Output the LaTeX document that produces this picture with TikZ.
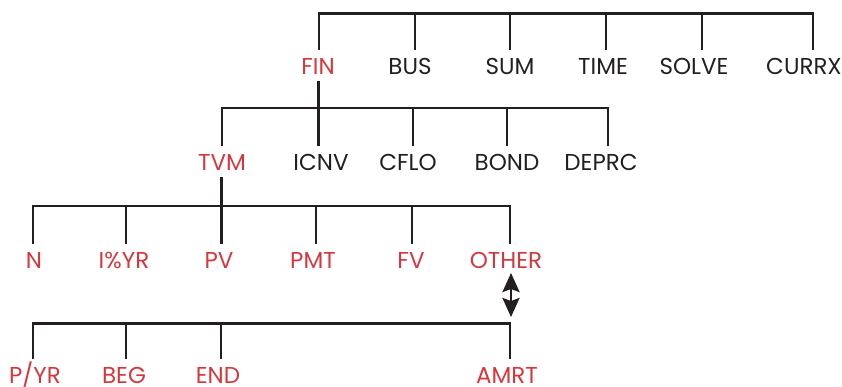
\documentclass[tikz,border=0pt]{standalone}
\usepackage{fontspec}
\setmainfont{Poppins}
\usetikzlibrary{arrows.meta}
\definecolor{ink}{HTML}{231F20}
\definecolor{hpred}{HTML}{D7373C}
\begin{document}
\begin{tikzpicture}[x=1pt,y=-1pt,
  lbl/.style={anchor=base,font=\fontsize{23}{23}\selectfont,text height=17pt,text depth=0pt,inner xsep=0pt,inner ysep=7pt,text=ink},
  red/.style={lbl,text=hpred},
  leaf/.style={red,text height=24pt,inner ysep=0pt},
  wire/.style={draw=ink,line width=2.8pt,line join=miter,line cap=butt},
  dbl/.style={draw=ink,line width=2.8pt,{Stealth[width=17pt,length=19pt,inset=3pt]}-{Stealth[width=17pt,length=19pt,inset=3pt]}}]
\useasboundingbox (0,0) rectangle (842,386);
% row 1
\node[red] (FIN) at (318,74) {FIN};
\node[lbl] (BUS) at (410,74) {BUS};
\node[lbl] (SUM) at (510,74) {SUM};
\node[lbl] (TIME) at (603,74) {TIME};
\node[lbl] (SOLVE) at (694,74) {SOLVE};
\node[lbl] (CURRX) at (804,74) {CURRX};
% row 2
\node[red] (TVM) at (222,170) {TVM};
\node[lbl] (ICNV) at (321,170) {ICNV};
\node[lbl] (CFLO) at (408,170) {CFLO};
\node[lbl] (BOND) at (507,170) {BOND};
\node[lbl] (DEPRC) at (601,170) {DEPRC};
% row 3
\node[red] (N) at (34,268) {N};
\node[red] (IYR) at (124,268) {I\%YR};
\node[red] (PV) at (219,268) {PV};
\node[red] (PMT) at (313,268) {PMT};
\node[red] (FV) at (411,268) {FV};
\node[red] (OTHER) at (506,268) {OTHER};
% row 4
\node[leaf] (PYR) at (35,383.5) {P/YR};
\node[leaf] (BEG) at (124,383.5) {BEG};
\node[leaf] (END) at (218,383.5) {END};
\node[leaf] (AMRT) at (507,383.5) {AMRT};
% bar 1
\coordinate (a1) at (319,13.5);
\coordinate (a2) at (415,13.5);
\coordinate (a3) at (510,13.5);
\coordinate (a4) at (606,13.5);
\coordinate (a5) at (702,13.5);
\coordinate (a6) at (813,13.5);
\draw[wire] (a1 |- FIN.north) -- (a1) -- (a6) -- (a6 |- CURRX.north);
\draw[wire] (a2) -- (a2 |- BUS.north);
\draw[wire] (a3) -- (a3 |- SUM.north);
\draw[wire] (a4) -- (a4 |- TIME.north);
\draw[wire] (a5) -- (a5 |- SOLVE.north);
% bar 2
\coordinate (b1) at (222,108);
\coordinate (b2) at (318.5,108);
\coordinate (b3) at (413,108);
\coordinate (b4) at (507,108);
\coordinate (b5) at (608,108);
\draw[wire] (b2 |- FIN.south) -- (b2);
\draw[wire] (b1 |- TVM.north) -- (b1) -- (b5) -- (b5 |- DEPRC.north);
\draw[wire] (b2) -- (b2 |- ICNV.north);
\draw[wire] (b3) -- (b3 |- CFLO.north);
\draw[wire] (b4) -- (b4 |- BOND.north);
% bar 3
\coordinate (c1) at (33,206);
\coordinate (c2) at (126,206);
\coordinate (c3) at (221.5,206);
\coordinate (c4) at (316,206);
\coordinate (c5) at (412,206);
\coordinate (c6) at (510,206);
\draw[wire] (c3 |- TVM.south) -- (c3);
\draw[wire] (c1 |- N.north) -- (c1) -- (c6) -- (c6 |- OTHER.north);
\draw[wire] (c2) -- (c2 |- IYR.north);
\draw[wire] (c3) -- (c3 |- PV.north);
\draw[wire] (c4) -- (c4 |- PMT.north);
\draw[wire] (c5) -- (c5 |- FV.north);
% arrow
\coordinate (d0) at (511,273);
\coordinate (d1) at (511,317);
\draw[dbl] (d0) -- (d1);
% bar 4
\coordinate (e1) at (33,323.5);
\coordinate (e2) at (126,323.5);
\coordinate (e3) at (221,323.5);
\coordinate (e4) at (510,323.5);
\draw[wire] (e1 |- PYR.north) -- (e1) -- (e4) -- (e4 |- AMRT.north);
\draw[wire] (e2) -- (e2 |- BEG.north);
\draw[wire] (e3) -- (e3 |- END.north);
\end{tikzpicture}
\end{document}
